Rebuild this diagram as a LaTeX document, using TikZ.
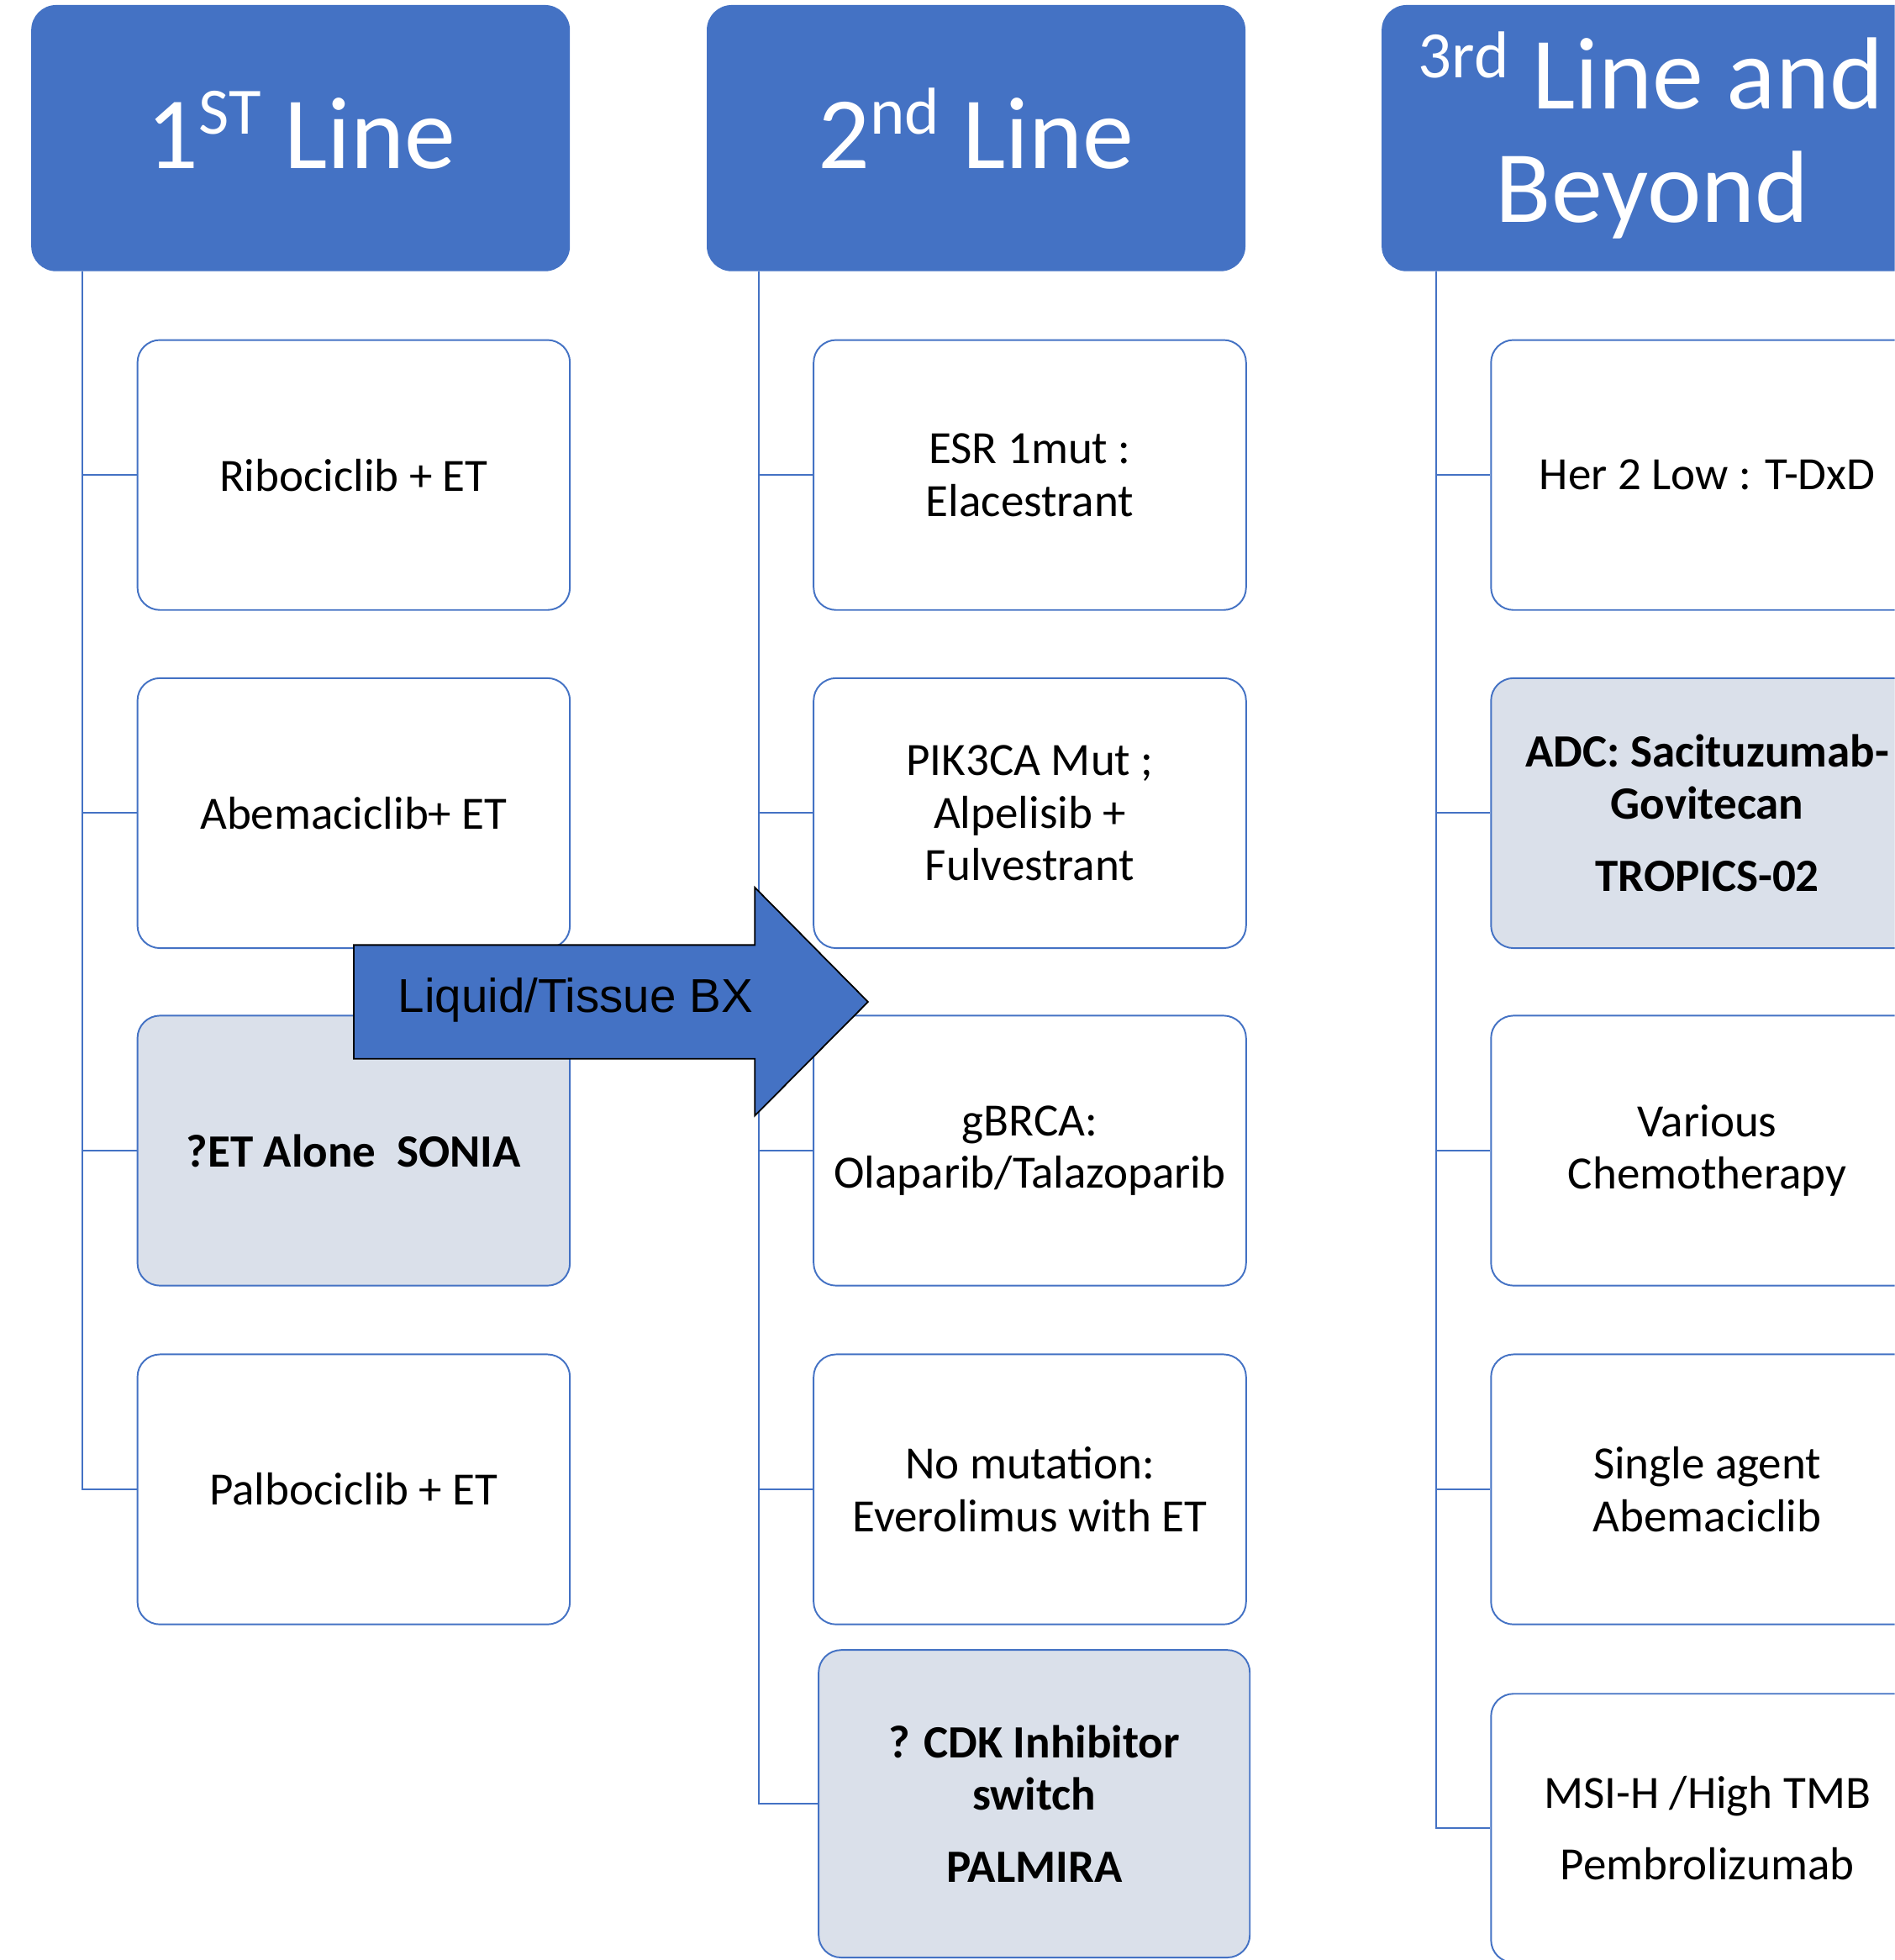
\documentclass[tikz,border=0pt]{standalone}
\usepackage{fontspec}
\setmainfont{Carlito}
\newfontfamily\arialfont{Liberation Sans}
\definecolor{hblue}{HTML}{4472C4}
\definecolor{bgray}{HTML}{DAE0EA}
\begin{document}
\begin{tikzpicture}[x=1pt,y=-1pt,
  hdr/.style={draw=none, fill=hblue, rounded corners=20pt, minimum width=431pt, minimum height=213pt, inner sep=0pt},
  hdrtext/.style={text=white, font=\fontsize{82}{91}\selectfont, inner sep=0pt, anchor=base},
  box/.style={draw=hblue, line width=1.3pt, fill=white, rounded corners=18pt, minimum width=346pt, minimum height=216pt, inner sep=0pt, align=center, font=\fontsize{37}{42}\selectfont},
  graybox/.style={box, fill=bgray, font=\fontsize{37}{42}\selectfont\bfseries},
  conn/.style={draw=hblue, line width=1.3pt}]
\clip (0,0) rectangle (1516,1568);
\fill[white] (0,0) rectangle (1516,1568);
% trunk roots
\coordinate (r1) at (66,217);
\coordinate (r2) at (607,217);
\coordinate (r3) at (1149,217);
% column 1 boxes
\node[box] (b11) at (283,380) {Ribociclib + ET};
\node[box] (b12) at (283,650.5) {Abemaciclib+ ET};
\node[graybox] (b13) at (283,920.5) {?ET Alone~~SONIA};
\node[box] (b14) at (283,1191.5) {Palbociclib + ET};
% column 2 boxes
\node[box] (b21) at (824,380) {ESR 1mut :\\Elacestrant};
\node[box] (b22) at (824,650.5) {PIK3CA Mut ;\\Alpelisib +\\Fulvestrant};
\node[box] (b23) at (824,920.5) {gBRCA:\\Olaparib/Talazoparib};
\node[box] (b24) at (824,1191.5) {No mutation:\\Everolimus with ET};
\node[graybox, minimum width=345pt, minimum height=246pt] (b25) at (827.5,1443) {? CDK Inhibitor\\switch\\[16pt]PALMIRA};
% column 3 boxes
\node[box] (b31) at (1366,380) {Her 2 Low : T-DxD};
\node[graybox] (b32) at (1366,650.5) {ADC: Sacituzumab-\\Govitecan\\[16pt]TROPICS-02};
\node[box] (b33) at (1366,920.5) {Various\\Chemotherapy};
\node[box] (b34) at (1366,1191.5) {Single agent\\Abemaciclib};
\node[box, minimum height=215pt] (b35) at (1366,1462.5) {MSI-H /High TMB\\[15pt]Pembrolizumab};
% connectors
\foreach \b in {b11,b12,b13,b14} \draw[conn] (r1) |- (\b.west);
\foreach \b in {b21,b22,b23,b24,b25} \draw[conn] (r2) |- (\b.west);
\foreach \b in {b31,b32,b33,b34,b35} \draw[conn] (r3) |- (\b.west);
% headers
\node[hdr] (h1) at (240.5,110.5) {};
\node[hdr] (h2) at (781,110.5) {};
\node[hdr] (h3) at (1321,110.5) {};
\node[hdrtext] (t1) at (241,135) {1\raisebox{28pt}{\fontsize{53}{53}\selectfont ST} Line};
\node[hdrtext] (t2) at (781,135) {2\raisebox{28pt}{\fontsize{53}{53}\selectfont nd} Line};
\node[hdrtext] (t3a) at (1321,87) {\raisebox{25pt}{\fontsize{53}{53}\selectfont 3rd} Line and};
\node[hdrtext] (t3b) at (1322,178) {Beyond};
% arrow
\path[draw=black, line width=1.2pt, fill=hblue] (283,756) -- (604,756) -- (604,710) -- (694.5,801.5) -- (604,892.5) -- (604,847) -- (283,847) -- cycle;
\node[font=\arialfont\fontsize{38}{44}\selectfont, anchor=base, inner sep=0pt] (bx) at (460.5,810) {Liquid/Tissue BX};
\end{tikzpicture}
\end{document}
